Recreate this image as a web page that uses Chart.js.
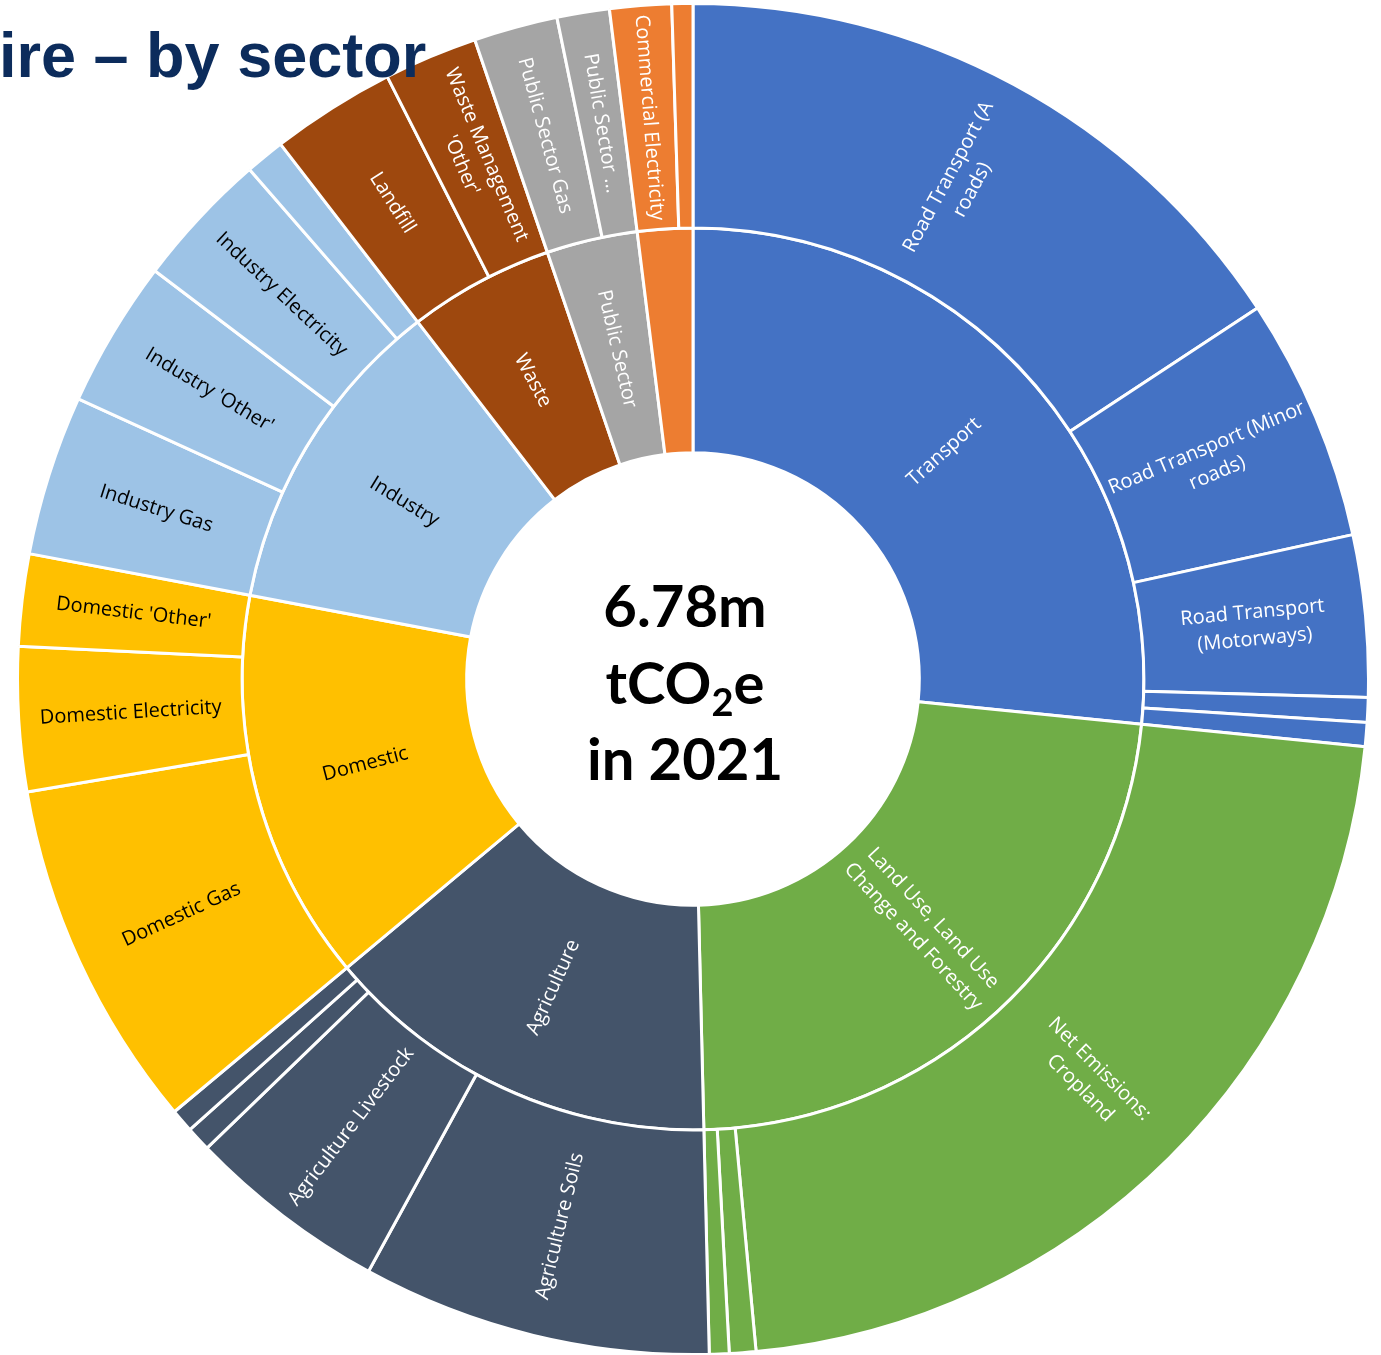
<!DOCTYPE html>
<html lang="en">
<head>
<meta charset="utf-8">
<title>Emissions by sector</title>
<script src="https://cdn.jsdelivr.net/npm/chart.js@4.4.1/dist/chart.umd.min.js"></script>
<style>
  html, body { margin: 0; padding: 0; background: #fff; }
  body { width: 1381px; height: 1355px; position: relative; overflow: hidden; }
  #wrap { position: absolute; left: 16px; top: 2px; width: 1354px; height: 1354px; }
  #title { position: absolute; left: -1px; top: 23px; font: bold 63px/64px "Liberation Sans", Arial, sans-serif; color: #0c2c5c; white-space: nowrap; z-index: 2; }
</style>
</head>
<body>
<div id="title">ire – by sector</div>
<div id="wrap"><canvas id="sunburst" width="1354" height="1354"></canvas></div>
<script>
"use strict";

// inner ring - sectors
const sectors = ["Transport", "Land Use, Land Use Change and Forestry", "Agriculture", "Domestic", "Industry", "Waste", "Public Sector", "Commercial"];
const sectorColours = ["#4472C4", "#70AD47", "#44546A", "#FFC000", "#9DC3E6", "#9E480E", "#A5A5A5", "#ED7D31"];
const sectorTextColours = ["#fff", "#fff", "#fff", "#000", "#000", "#fff", "#fff", "#fff"];

// outer ring - subsectors, ktCO2e
const subsectors = [
  "Road Transport (A roads)", "Road Transport (Minor roads)", "Road Transport (Motorways)", "Diesel Railways", "Transport 'Other'",
  "Net Emissions: Cropland", "Net Emissions: Settlements", "Net Emissions: Indirect N2O",
  "Agriculture Soils", "Agriculture Livestock", "Agriculture 'Other'", "Agriculture Electricity",
  "Domestic Gas", "Domestic Electricity", "Domestic 'Other'",
  "Industry Gas", "Industry 'Other'", "Industry Electricity", "Large Industrial Installations",
  "Landfill", "Waste Management 'Other'",
  "Public Sector Gas", "Public Sector Electricity",
  "Commercial Electricity", "Commercial Gas"
];
const subsectorSector = [0, 0, 0, 0, 0, 1, 1, 1, 2, 2, 2, 2, 3, 3, 3, 4, 4, 4, 4, 5, 5, 6, 6, 7, 7];
const subsectorValues = [
  1068, 395, 262, 40, 39,
  1486, 43, 32,
  567, 326, 40, 38,
  569, 234, 149,
  260, 239, 222, 64,
  202, 152,
  136, 85,
  100, 34
];
const year = 2021;

// sector totals from the subsectors
const sectorValues = sectors.map((s, i) =>
  subsectorValues.reduce((sum, v, j) => subsectorSector[j] === i ? sum + v : sum, 0));
const total = sectorValues.reduce((a, b) => a + b, 0);

const lineH = 27;

// greedy word wrap
function wrapText(ctx, text, maxW) {
  const words = text.split(" ");
  const lines = [];
  let line = "";
  words.forEach(w => {
    const test = line ? line + " " + w : w;
    if (line && ctx.measureText(test).width > maxW) {
      lines.push(line);
      line = w;
    } else {
      line = test;
    }
  });
  if (line) lines.push(line);
  return lines;
}

// labels written along the radius of every arc that has room
const ringLabels = {
  id: "ringLabels",
  afterDatasetsDraw(chart) {
    const ctx = chart.ctx;
    ctx.save();
    ctx.font = '20px "Open Sans"';
    ctx.textAlign = "center";
    ctx.textBaseline = "middle";
    chart.data.datasets.forEach((ds, di) => {
      const meta = chart.getDatasetMeta(di);
      meta.data.forEach((arc, i) => {
        const p = arc.getProps(["x", "y", "startAngle", "endAngle", "innerRadius", "outerRadius"], true);
        const thick = p.outerRadius - p.innerRadius;
        const rMid = (p.innerRadius + p.outerRadius) / 2;
        let lines = wrapText(ctx, ds.names[i], thick - 10);
        const textW = Math.max(...lines.map(l => ctx.measureText(l).width));
        const span = p.endAngle - p.startAngle;
        const room = span * (rMid - textW / 2) - 10;
        const maxLines = Math.floor(room / lineH);
        if (maxLines < 1) return;
        if (lines.length > maxLines) {
          lines = lines.slice(0, maxLines);
          lines[maxLines - 1] += " ...";
        }
        const mid = (p.startAngle + p.endAngle) / 2;
        let rot = mid;
        if (Math.cos(mid) < 0) rot += Math.PI;
        ctx.save();
        ctx.translate(p.x + Math.cos(mid) * rMid, p.y + Math.sin(mid) * rMid);
        ctx.rotate(rot);
        ctx.fillStyle = ds.textColours[i];
        lines.forEach((l, k) => ctx.fillText(l, 0, (k - (lines.length - 1) / 2) * lineH));
        ctx.restore();
      });
    });
    ctx.restore();
  }
};

// total in the hole
const centreText = {
  id: "centreText",
  afterDraw(chart) {
    const ctx = chart.ctx;
    const arc = chart.getDatasetMeta(0).data[0];
    const cx = arc.x - 8;
    const cy = arc.y;
    ctx.save();
    ctx.fillStyle = "#000";
    ctx.textBaseline = "alphabetic";
    ctx.textAlign = "center";
    ctx.font = 'bold 58px Lato';
    ctx.fillText((total / 1000).toFixed(2) + "m", cx, cy - 52);
    ctx.fillText("in " + year, cx, cy + 101);

    // tCO2e with a subscript 2
    const big = 'bold 58px Lato', small = 'bold 38px Lato';
    ctx.font = big;
    const w1 = ctx.measureText("tCO").width;
    const w3 = ctx.measureText("e").width;
    ctx.font = small;
    const w2 = ctx.measureText("2").width;
    let x = cx - (w1 + w2 + w3) / 2;
    ctx.textAlign = "left";
    ctx.font = big;
    ctx.fillText("tCO", x, cy + 25);
    x += w1;
    ctx.font = small;
    ctx.fillText("2", x, cy + 37);
    x += w2;
    ctx.font = big;
    ctx.fillText("e", x, cy + 25);
    ctx.restore();
  }
};

new Chart(document.getElementById("sunburst"), {
  type: "doughnut",
  data: {
    labels: subsectors,
    datasets: [
      {
        label: "Subsector",
        data: subsectorValues,
        names: subsectors,
        backgroundColor: subsectorSector.map(s => sectorColours[s]),
        textColours: subsectorSector.map(s => sectorTextColours[s]),
        borderColor: "#fff",
        borderWidth: 3,
        hoverBorderWidth: 3,
        hoverOffset: 0
      },
      {
        label: "Sector",
        data: sectorValues,
        names: sectors,
        backgroundColor: sectorColours,
        textColours: sectorTextColours,
        borderColor: "#fff",
        borderWidth: 3,
        hoverBorderWidth: 3,
        hoverOffset: 0
      }
    ]
  },
  options: {
    responsive: false,
    animation: false,
    cutout: "33.5%",
    layout: { padding: 0 },
    plugins: {
      legend: { display: false }
    }
  },
  plugins: [ringLabels, centreText]
});
</script>
</body>
</html>
